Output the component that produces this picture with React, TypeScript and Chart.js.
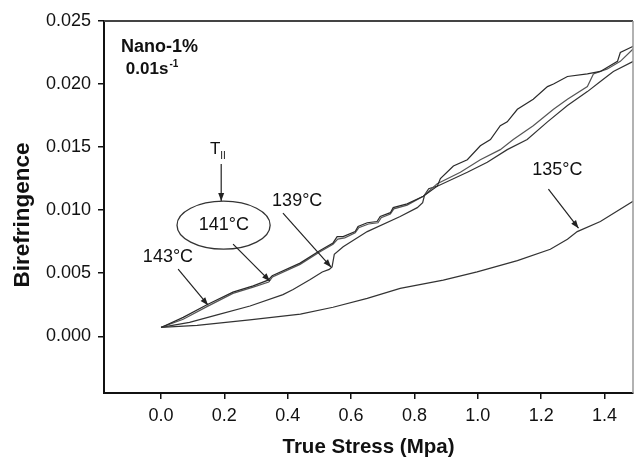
import React, { useEffect, useRef } from "react";
import { Chart, registerables } from "chart.js";

Chart.register(...registerables);

const xTicks = [0, 0.2, 0.4, 0.6, 0.8, 1.0, 1.2, 1.4];
const yTicks = [0, 0.005, 0.01, 0.015, 0.02, 0.025];

const c143X = [0, 0.07, 0.145, 0.227, 0.291, 0.338, 0.351, 0.439, 0.502, 0.543, 0.556, 0.575, 0.613, 0.622, 0.651, 0.682, 0.692, 0.724, 0.733, 0.777, 0.828, 0.872, 0.882, 0.923, 0.967, 1.008, 1.04, 1.071, 1.093, 1.125, 1.175, 1.22, 1.239, 1.283, 1.346, 1.387, 1.441, 1.45, 1.491];
const c143Y = [0.0007, 0.0015, 0.0025, 0.0035, 0.004, 0.00445, 0.0048, 0.0058, 0.0068, 0.0074, 0.0079, 0.0079, 0.0083, 0.0087, 0.009, 0.0091, 0.0095, 0.0098, 0.0102, 0.0105, 0.0111, 0.0119, 0.0125, 0.0135, 0.014, 0.0151, 0.0156, 0.0167, 0.017, 0.018, 0.0188, 0.0198, 0.02, 0.0206, 0.0208, 0.021, 0.0218, 0.0225, 0.023];

const c141X = [0, 0.07, 0.145, 0.227, 0.291, 0.34, 0.352, 0.439, 0.502, 0.543, 0.558, 0.58, 0.613, 0.624, 0.655, 0.685, 0.695, 0.724, 0.735, 0.777, 0.828, 0.872, 0.945, 1.008, 1.071, 1.112, 1.175, 1.239, 1.283, 1.346, 1.365, 1.409, 1.45, 1.491];
const c141Y = [0.0007, 0.00135, 0.00235, 0.0034, 0.0039, 0.0043, 0.0047, 0.0057, 0.0067, 0.0073, 0.0077, 0.0078, 0.0082, 0.0086, 0.0089, 0.009, 0.0094, 0.0097, 0.0101, 0.0104, 0.0111, 0.0121, 0.013, 0.014, 0.0148, 0.0156, 0.0167, 0.018, 0.0188, 0.0198, 0.0208, 0.0212, 0.0218, 0.0228];

const c139X = [0, 0.09, 0.177, 0.281, 0.385, 0.417, 0.471, 0.509, 0.531, 0.54, 0.547, 0.575, 0.651, 0.755, 0.809, 0.826, 0.832, 0.845, 0.872, 0.967, 1.03, 1.093, 1.156, 1.22, 1.283, 1.346, 1.387, 1.428, 1.491];
const c139Y = [0.0007, 0.0011, 0.0017, 0.0024, 0.0033, 0.0037, 0.0045, 0.0051, 0.0053, 0.0055, 0.0065, 0.0071, 0.0083, 0.0095, 0.0102, 0.0106, 0.0112, 0.0117, 0.0119, 0.013, 0.0138, 0.0148, 0.0156, 0.017, 0.0183, 0.0194, 0.0202, 0.021, 0.0218];

const c135X = [0, 0.114, 0.28, 0.44, 0.543, 0.651, 0.755, 0.891, 0.998, 1.125, 1.229, 1.283, 1.314, 1.387, 1.49];
const c135Y = [0.0007, 0.00087, 0.0013, 0.00175, 0.0023, 0.003, 0.0038, 0.00445, 0.0051, 0.006, 0.0069, 0.0077, 0.0083, 0.0091, 0.0107];

const seriesNames = ["143°C", "141°C", "139°C", "135°C"];

// annotation texts and arrows in data coordinates
const labelTexts = [
  { text: "143°C", x: 0.022, y: 0.00627 },
  { text: "141°C", x: 0.1985, y: 0.00881 },
  { text: "139°C", x: 0.43, y: 0.01072 },
  { text: "135°C", x: 1.251, y: 0.01318 },
];
const arrowsData = [
  { x1: 0.054, y1: 0.00532, x2: 0.1485, y2: 0.00246 },
  { x1: 0.2275, y1: 0.0073, x2: 0.344, y2: 0.00437 },
  { x1: 0.385, y1: 0.00977, x2: 0.537, y2: 0.00548 },
  { x1: 1.223, y1: 0.01167, x2: 1.318, y2: 0.00857 },
  { x1: 0.19, y1: 0.01366, x2: 0.19, y2: 0.01072 },
];

const FONT = "Arial, 'Liberation Sans', Helvetica, sans-serif";

function drawArrow(ctx: CanvasRenderingContext2D, x1: number, y1: number, x2: number, y2: number) {
  ctx.beginPath();
  ctx.moveTo(x1, y1);
  ctx.lineTo(x2, y2);
  ctx.stroke();
  const a = Math.atan2(y2 - y1, x2 - x1);
  const L = 8, W = 3;
  ctx.beginPath();
  ctx.moveTo(x2, y2);
  ctx.lineTo(x2 - L * Math.cos(a) + W * Math.sin(a), y2 - L * Math.sin(a) - W * Math.cos(a));
  ctx.lineTo(x2 - L * Math.cos(a) - W * Math.sin(a), y2 - L * Math.sin(a) + W * Math.cos(a));
  ctx.closePath();
  ctx.fill();
}

const annotPlugin = {
  id: "annot",
  afterDatasetsDraw(chart: any) {
    const { ctx, chartArea: ca } = chart;
    const xs = chart.scales.x;
    const ys = chart.scales.y;
    const px = (v: number) => xs.getPixelForValue(v);
    const py = (v: number) => ys.getPixelForValue(v);
    ctx.save();
    // frame top/right
    ctx.strokeStyle = "#444";
    ctx.lineWidth = 2;
    ctx.beginPath();
    ctx.moveTo(ca.left, ca.top);
    ctx.lineTo(ca.right, ca.top);
    ctx.stroke();
    ctx.strokeStyle = "#999";
    ctx.lineWidth = 1.5;
    ctx.beginPath();
    ctx.moveTo(ca.right, ca.top);
    ctx.lineTo(ca.right, ca.bottom);
    ctx.stroke();

    // y axis title
    ctx.save();
    ctx.fillStyle = "#111";
    ctx.font = `bold 22.5px ${FONT}`;
    ctx.textAlign = "center";
    ctx.textBaseline = "middle";
    ctx.translate(23, (ca.top + ca.bottom) / 2 + 8);
    ctx.rotate(-Math.PI / 2);
    ctx.fillText("Birefringence", 0, 0);
    ctx.restore();

    ctx.fillStyle = "#111";
    ctx.textBaseline = "alphabetic";
    ctx.textAlign = "left";
    ctx.font = `bold 18px ${FONT}`;
    ctx.fillText("Nano-1%", px(-0.126), py(0.02254));
    ctx.font = `bold 17px ${FONT}`;
    const bx = px(-0.111);
    const by = py(0.0208);
    ctx.fillText("0.01s", bx, by);
    const w = ctx.measureText("0.01s").width;
    ctx.font = `bold 10px ${FONT}`;
    ctx.fillText("-1", bx + w + 1, by - 7);

    // T_II
    ctx.font = `17px ${FONT}`;
    ctx.textAlign = "center";
    ctx.textBaseline = "middle";
    ctx.fillText("T", px(0.171), py(0.01485));
    ctx.font = `10px ${FONT}`;
    ctx.fillText("II", px(0.196), py(0.01425));

    ctx.font = `18px ${FONT}`;
    labelTexts.forEach((l) => ctx.fillText(l.text, px(l.x), py(l.y)));

    // ellipse
    ctx.strokeStyle = "#333";
    ctx.lineWidth = 1.3;
    const ecx = px(0.1975), ecy = py(0.00881);
    const erx = Math.abs(px(0.1975 + 0.147) - ecx);
    const ery = Math.abs(py(0.00881 + 0.0019) - ecy);
    ctx.beginPath();
    ctx.ellipse(ecx, ecy, erx, ery, 0, 0, Math.PI * 2);
    ctx.stroke();

    ctx.fillStyle = "#222";
    ctx.strokeStyle = "#222";
    ctx.lineWidth = 1.2;
    arrowsData.forEach((a) => drawArrow(ctx, px(a.x1), py(a.y1), px(a.x2), py(a.y2)));
    ctx.restore();
  },
};

export default function App() {
  const ref = useRef<HTMLCanvasElement | null>(null);
  useEffect(() => {
    document.body.style.margin = "0";
    const xsArr = [c143X, c141X, c139X, c135X];
    const ysArr = [c143Y, c141Y, c139Y, c135Y];
    const colors = ["#2a2a2a", "#555", "#333", "#333"];
    const datasets = seriesNames.map((name, i) => ({
      label: name,
      data: xsArr[i].map((x, j) => ({ x, y: ysArr[i][j] })),
      showLine: true,
      borderColor: colors[i],
      borderWidth: 1.2,
      pointRadius: 0,
      tension: 0,
      fill: false,
    }));
    const chart = new Chart(ref.current as HTMLCanvasElement, {
      type: "scatter",
      data: { datasets },
      options: {
        animation: false,
        responsive: false,
        devicePixelRatio: 1,
        layout: { padding: { top: 21, right: 1, left: 0, bottom: 0 } },
        plugins: { legend: { display: false }, tooltip: { enabled: false } },
        scales: {
          x: {
            type: "linear",
            min: -0.18,
            max: 1.49,
            afterBuildTicks: (s: any) => {
              s.ticks = xTicks.map((v) => ({ value: v }));
            },
            afterFit: (s: any) => {
              s.height = 64;
            },
            ticks: {
              color: "#111",
              font: { size: 18, family: FONT },
              padding: 6,
              maxRotation: 0,
              autoSkip: false,
              callback: (v: any) => Number(v).toFixed(1),
            },
            grid: { drawOnChartArea: false, drawTicks: true, tickLength: 6, color: "#111", lineWidth: 1.5 },
            border: { display: true, color: "#111", width: 2 },
            title: {
              display: true,
              text: "True Stress (Mpa)",
              color: "#111",
              font: { size: 20.5, weight: "bold", family: FONT, lineHeight: 1 },
              padding: { top: 0, bottom: -1 },
            },
          },
          y: {
            type: "linear",
            min: -0.0045,
            max: 0.025,
            afterBuildTicks: (s: any) => {
              s.ticks = yTicks.map((v) => ({ value: v }));
            },
            afterFit: (s: any) => {
              s.width = 104;
            },
            ticks: {
              color: "#111",
              font: { size: 18, family: FONT },
              padding: 7,
              autoSkip: false,
              callback: (v: any) => Number(v).toFixed(3),
            },
            grid: { drawOnChartArea: false, drawTicks: true, tickLength: 6, color: "#111", lineWidth: 1.5 },
            border: { display: true, color: "#111", width: 2 },
            title: { display: false },
          },
        },
      },
      plugins: [annotPlugin],
    });
    return () => chart.destroy();
  }, []);
  return (
    <div style={{ position: "fixed", left: 0, top: 0, width: 634, height: 457, background: "#fff" }}>
      <canvas ref={ref} width={634} height={457} style={{ width: 634, height: 457, display: "block" }} />
    </div>
  );
}
